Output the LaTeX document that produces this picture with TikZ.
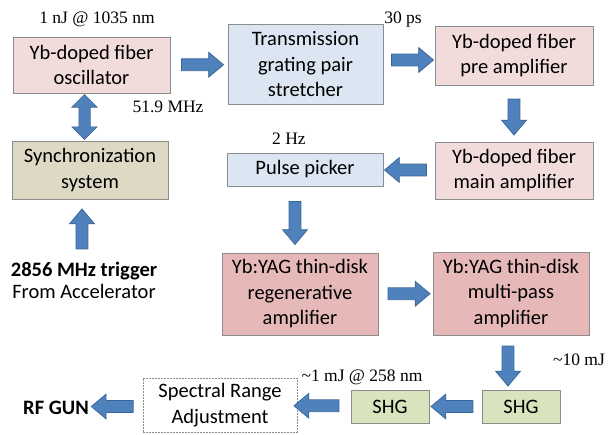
\documentclass[tikz,border=0pt]{standalone}
\usepackage{fontspec}
\setmainfont{Liberation Serif}
\newfontfamily\boxfamily{Carlito}
\usetikzlibrary{shapes.arrows}

\definecolor{boxline}{HTML}{8C8C8C}
\definecolor{pinklight}{HTML}{F2DCDB}
\definecolor{pinkdark}{HTML}{E6B9B8}
\definecolor{bluelight}{HTML}{DCE6F2}
\definecolor{khaki}{HTML}{DDD9C4}
\definecolor{greenlight}{HTML}{D7E4BD}
\definecolor{arrowfill}{HTML}{4F81BD}
\definecolor{arrowline}{HTML}{3A6597}

\tikzset{
  box/.style={draw=boxline, line width=0.8pt, align=center, inner sep=2pt,
    font=\boxfamily\fontsize{20.5}{25.5}\selectfont},
  note/.style={inner sep=0pt, font=\fontsize{17.5}{20}\selectfont},
  barrow/.style={single arrow, draw=arrowline, fill=arrowfill, line width=0.7pt,
    minimum height=42pt, single arrow head extend=6.5pt,
    single arrow tip angle=80, inner xsep=0pt, inner ysep=5.6pt, anchor=center},
  dbarrow/.style={double arrow, draw=arrowline, fill=arrowfill, line width=0.7pt,
    minimum height=45pt, double arrow head extend=7pt,
    double arrow tip angle=90, inner xsep=0pt, inner ysep=5.3pt, anchor=center,
    rotate=90},
}

\begin{document}
\begin{tikzpicture}[x=1pt,y=-1pt]
\useasboundingbox (0,0) rectangle (608,434);

% laser chain boxes
\node[box, fill=pinklight, minimum width=157pt, minimum height=56pt] (osc) at (91.5,65) {Yb-doped fiber\\oscillator};
\node[box, fill=bluelight, minimum width=155pt, minimum height=80pt] (str) at (305.5,64.5) {Transmission\\grating pair\\stretcher};
\node[box, fill=pinklight, minimum width=158pt, minimum height=59pt] (pre) at (514,55.5) {Yb-doped fiber\\pre amplifier};
\node[box, fill=pinklight, minimum width=158pt, minimum height=57pt] (main) at (514,170.5) {Yb-doped fiber\\main amplifier};
\node[box, fill=bluelight, minimum width=156pt, minimum height=33pt] (pick) at (305,169.5) {Pulse picker};
\node[box, fill=khaki, minimum width=156pt, minimum height=58pt] (sync) at (90,170) {Synchronization\\system};
\node[box, fill=pinkdark, minimum width=156pt, minimum height=82pt] (regen) at (300,294) {Yb:YAG thin-disk\\regenerative\\amplifier};
\node[box, fill=pinkdark, minimum width=156pt, minimum height=83pt] (multi) at (511,293.5) {Yb:YAG thin-disk\\multi-pass\\amplifier};
\node[box, fill=greenlight, minimum width=78pt, minimum height=33pt] (shga) at (521,406.5) {SHG};
\node[box, fill=greenlight, minimum width=78pt, minimum height=33pt] (shgb) at (390,406.5) {SHG};
\node[box, draw=boxline, dash pattern=on 1.6pt off 1.4pt, minimum width=154pt, minimum height=54pt] (spec) at (220,405) {Spectral Range\\Adjustment};

% plain texts
\node[font=\boxfamily\bfseries\fontsize{20.5}{25.5}\selectfont, inner sep=0pt] (gun) at (56,408) {RF GUN};
\node[align=center, inner sep=0pt, font=\boxfamily\fontsize{20.5}{22}\selectfont] (trig) at (84,280) {\textbf{2856 MHz trigger}\\From Accelerator};

% annotations
\node[note] (e1) at (97,19) {1 nJ @ 1035 nm};
\node[note] (f1) at (168,107) {51.9 MHz};
\node[note] (t1) at (403,20) {30 ps};
\node[note] (r1) at (289,139) {2 Hz};
\node[note] (e2) at (579,360) {\textasciitilde10 mJ};
\node[note] (e3) at (362,377) {\textasciitilde1 mJ @ 258 nm};

% block arrows between stages
\path (osc.east) -- node[barrow] {} (str.west);
\path (str.east) -- node[barrow] {} (pre.west);
\path (pre.south) -- node[barrow, minimum height=36pt, rotate=270] {} (main.north);
\path (main.west) -- node[barrow, rotate=180] {} (pick.east);
\path ([xshift=-10pt]pick.south) -- node[barrow, minimum height=43pt, rotate=270] {} ([xshift=-5pt]regen.north);
\path (regen.east) -- node[barrow] {} (multi.west);
\path (multi.south) -- node[barrow, minimum height=40pt, rotate=270, yshift=-3pt] {} (multi.south |- shga.north);
\path (shga.west) -- node[barrow, rotate=180] {} (shgb.east);
\path (shgb.west) -- node[barrow, minimum height=45pt, rotate=180, xshift=4pt] {} (spec.east);
\path (spec.west) -- node[barrow, rotate=180] {} (gun.east);
\path ([xshift=-5pt]trig.north) -- node[barrow, minimum height=40pt, rotate=90, xshift=-2pt] {} ([xshift=-5pt]sync.south);
\path ([xshift=-7pt]osc.south) -- node[dbarrow] {} ([xshift=-5.5pt]sync.north);
\end{tikzpicture}
\end{document}
